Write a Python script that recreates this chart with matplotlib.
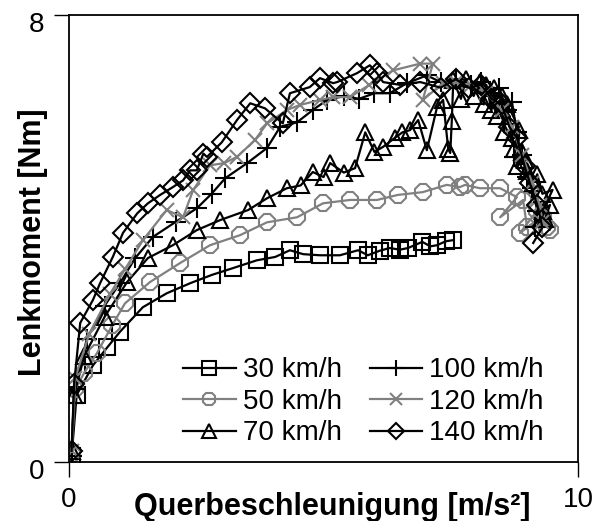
import numpy as np
import matplotlib
matplotlib.use('Agg')
import matplotlib.pyplot as plt
import matplotlib.transforms as mtransforms

plt.rcParams['font.family'] = ['Liberation Sans', 'DejaVu Sans']

# Lenkmoment über Querbeschleunigung, je Geschwindigkeit
q30 = [0.05, 0.15, 0.47, 0.75, 1.0, 1.45, 1.92, 2.38, 2.81, 3.22, 3.69, 4.05, 4.34, 4.6,
       4.93, 5.32, 5.68, 5.87, 6.1, 6.3, 6.5, 6.66, 6.94, 7.1, 7.23, 7.4, 7.54]
m30 = [0.1, 1.2, 1.73, 2.05, 2.33, 2.77, 3.02, 3.2, 3.35, 3.47, 3.61, 3.67, 3.79, 3.72,
       3.7, 3.7, 3.79, 3.7, 3.78, 3.83, 3.8, 3.83, 3.94, 3.86, 3.88, 3.95, 3.97]

q50 = [0.05, 0.12, 0.3, 0.55, 0.85, 1.1, 1.59, 2.18, 2.77, 3.36, 3.89, 4.48, 4.99, 5.52,
       6.05, 6.46, 6.95, 7.42, 7.68, 7.78, 8.07, 8.47, 8.8, 8.47, 8.92, 9.0, 9.31, 9.45,
       9.3, 8.86, 9.2, 9.4]
m50 = [0.15, 1.3, 1.6, 1.95, 2.45, 2.84, 3.22, 3.56, 3.88, 4.06, 4.29, 4.38, 4.63, 4.69,
       4.69, 4.78, 4.83, 4.96, 4.92, 4.96, 4.9, 4.9, 4.74, 4.38, 4.69, 4.2, 4.38, 4.15,
       4.4, 4.1, 4.5, 4.2]

q70 = [0.05, 0.1, 0.3, 0.7, 1.14, 1.55, 2.04, 2.51, 2.97, 3.52, 3.89, 4.28, 4.55, 4.79,
       5.0, 5.13, 5.4, 5.62, 5.82, 6.0, 6.17, 6.4, 6.55, 6.7, 6.86, 7.03, 7.23, 7.35,
       7.45, 7.49, 7.52, 7.55, 7.7, 7.8, 7.95, 8.07, 8.15, 8.2, 8.3, 8.35, 8.4, 8.5, 8.55,
       8.6, 8.7, 8.65, 8.75, 8.85, 8.8, 8.9, 9.0, 8.95, 9.12, 9.2, 9.3, 9.5, 9.31, 9.45,
       9.35]
m70 = [0.2, 1.2, 1.9, 2.6, 3.22, 3.65, 3.88, 4.15, 4.33, 4.51, 4.72, 4.9, 4.95, 5.19,
       5.1, 5.35, 5.18, 5.26, 5.9, 5.55, 5.64, 5.8, 5.9, 5.94, 6.12, 5.58, 6.35, 6.48,
       5.6, 5.53, 6.1, 6.83, 6.5, 6.85, 6.55, 6.8, 6.4, 6.75, 6.3, 6.7, 6.2, 6.55, 5.9,
       6.4, 5.8, 6.2, 5.6, 5.95, 5.3, 5.55, 5.2, 5.4, 5.0, 5.15, 4.8, 4.87, 4.5, 4.6,
       4.35]

q100 = [0.05, 0.1, 0.35, 0.7, 1.0, 1.3, 1.65, 2.1, 2.51, 2.8, 3.07, 3.5, 3.89, 4.15,
        4.48, 4.79, 5.07, 5.4, 5.7, 6.0, 6.3, 6.64, 7.03, 7.3, 7.6, 7.9, 8.1, 8.3, 8.45,
        8.6, 8.7, 8.8, 8.75, 8.9, 9.0, 9.1, 9.2, 9.15]
m100 = [0.1, 1.3, 2.2, 2.8, 3.2, 3.65, 4.03, 4.3, 4.54, 4.8, 5.08, 5.35, 5.62, 6.0,
        6.08, 6.3, 6.48, 6.55, 6.5, 6.6, 6.6, 6.78, 6.92, 6.8, 6.85, 6.75, 6.8, 6.6, 6.7,
        6.3, 6.45, 5.9, 5.45, 5.5, 5.1, 4.9, 4.5, 4.2]

q120 = [0.05, 0.12, 0.4, 0.8, 1.1, 1.45, 1.92, 2.24, 2.44, 2.77, 3.05, 3.3, 3.65, 3.89,
        4.28, 4.54, 4.93, 5.19, 5.52, 5.9, 6.37, 6.9, 7.15, 6.95, 7.35, 7.6, 7.9, 8.2,
        8.5, 8.7, 8.9, 9.1, 9.25, 9.3]
m120 = [0.2, 1.5, 2.3, 3.0, 3.45, 3.97, 4.51, 4.38, 4.87, 5.31, 5.35, 5.46, 5.76, 6.06,
        6.3, 6.39, 6.48, 6.53, 6.53, 6.75, 7.01, 7.13, 7.13, 6.48, 6.78, 6.8, 6.75, 6.6,
        6.3, 6.0, 5.5, 5.0, 4.6, 4.3]

q140 = [0.05, 0.1, 0.22, 0.47, 0.61, 0.86, 1.06, 1.34, 1.55, 1.79, 2.04, 2.24, 2.38,
        2.51, 2.64, 2.71, 3.0, 3.3, 3.56, 3.85, 4.2, 4.34, 4.73, 4.93, 5.19, 5.27, 5.66,
        5.91, 6.05, 6.17, 6.5, 6.9, 7.3, 7.6, 7.85, 8.1, 8.3, 8.5, 8.65, 8.8, 8.95, 9.05,
        9.2, 9.3, 9.12]
m140 = [0.2, 1.4, 2.49, 2.9, 3.2, 3.67, 4.1, 4.45, 4.63, 4.78, 4.92, 5.04, 5.22, 5.22,
        5.52, 5.46, 5.72, 6.12, 6.42, 6.33, 6.06, 6.6, 6.71, 6.87, 6.78, 6.8, 6.96, 7.1,
        6.96, 6.8, 6.75, 6.8, 6.7, 6.85, 6.7, 6.75, 6.5, 6.4, 6.0, 5.8, 5.3, 5.0, 4.6,
        4.2, 3.92]

labels = ['30 km/h', '50 km/h', '70 km/h', '100 km/h', '120 km/h', '140 km/h']
series = [(q30, m30), (q50, m50), (q70, m70), (q100, m100), (q120, m120), (q140, m140)]
farben = ['black', '#808080', 'black', 'black', '#808080', 'black']
marker = ['s', '8', '^', '+', 'x', 'D']
groesse = [12, 12, 12, 14, 10, 10]

fig = plt.figure(figsize=(6.06, 5.21), dpi=100)
ax = fig.add_axes([0.1139, 0.1132, 0.8399, 0.8580])

for (q, m), lab, c, mk, ms in zip(series, labels, farben, marker, groesse):
    ax.plot(q, m, color=c, lw=1.6, marker=mk, ms=ms, mfc='none', mec=c, mew=1.5,
            label=lab)

ax.set_xlim(0, 10)
ax.set_ylim(0, 8)
ax.set_xticks([0, 10])
ax.set_yticks([0, 8])
ax.tick_params(direction='out', length=11, width=1.0, labelsize=20, pad=7)
for s in ax.spines.values():
    s.set_linewidth(1.3)

# y-Beschriftungen etwas unterhalb der Striche
versatz = mtransforms.ScaledTranslation(0, -5 / 72, fig.dpi_scale_trans)
for t in ax.get_yticklabels():
    t.set_transform(t.get_transform() + versatz)

ax.set_xlabel('Querbeschleunigung [m/s²]', fontsize=22, fontweight='bold')
ax.xaxis.set_label_coords(0.517, -0.066)
ax.set_ylabel('Lenkmoment [Nm]', fontsize=22, fontweight='bold')
ax.yaxis.set_label_coords(-0.042, 0.492)

leg = ax.legend(ncol=2, frameon=False, fontsize=20, loc='lower left',
                bbox_to_anchor=(0.224, 0.035), borderaxespad=0, borderpad=0,
                handlelength=1.9, handletextpad=0.25, columnspacing=1.0,
                labelspacing=0.2, numpoints=1, markerscale=0.8)

fig.savefig('out.png', dpi=100)
